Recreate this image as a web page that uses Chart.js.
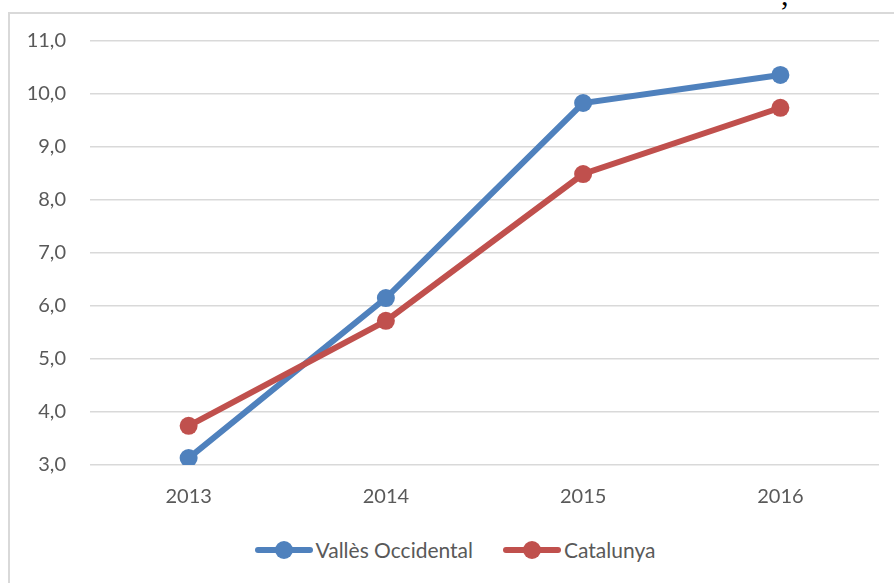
<!DOCTYPE html>
<html>
<head>
<meta charset="utf-8">
<script src="https://cdn.jsdelivr.net/npm/chart.js@4"></script>
<style>
  html, body { margin: 0; padding: 0; background: #fff; }
  body { width: 894px; height: 583px; position: relative; overflow: hidden; font-family: Lato, "Open Sans", sans-serif; }
  #frame { position: absolute; left: 8px; top: 12px; width: 900px; height: 600px; border-left: 2px solid #d9d9d9; border-top: 2px solid #d9d9d9; }
  #stray { position: absolute; left: 781px; top: -22px; font-size: 30px; color: #000; font-family: "Liberation Serif", serif; }
  #wrap { position: absolute; left: 0; top: 0; width: 894px; height: 515px; }
  #legend { position: absolute; top: 537px; left: 0; width: 894px; display: flex; justify-content: center; gap: 30px; padding-left: 16px; box-sizing: border-box; }
  .item { display: flex; align-items: center; font-size: 21px; color: #595959; }
  .sample { position: relative; width: 58px; height: 24px; margin-right: 3px; }
  .sample .ln { position: absolute; left: 0; top: 9px; width: 58px; height: 6px; border-radius: 3px; }
  .sample .pt { position: absolute; left: 20px; top: 3px; width: 18px; height: 18px; border-radius: 50%; }
</style>
</head>
<body>
<div id="frame"></div>
<div id="stray">,</div>
<div id="wrap"><canvas id="chart"></canvas></div>
<div id="legend"></div>
<script>
// -----------------------
// Dados
// -----------------------
const years = ["2013", "2014", "2015", "2016"];
const vallesOccidental = [3.13, 6.15, 9.83, 10.36];
const catalunya = [3.74, 5.72, 8.49, 9.74];
const seriesNames = ["Vallès Occidental", "Catalunya"];
const seriesColors = ["#4F81BD", "#C0504D"];

const textColor = "#595959";
const gridColor = "#d9d9d9";

const ctx = document.getElementById("chart").getContext("2d");

// Catalunya is drawn on top of Vallès (lower order = drawn later)
const chart = new Chart(ctx, {
  type: "line",
  data: {
    labels: years,
    datasets: [
      { label: seriesNames[0], data: vallesOccidental, borderColor: seriesColors[0], backgroundColor: seriesColors[0], order: 1,
        borderWidth: 6, pointRadius: 9, pointHoverRadius: 9, pointBorderWidth: 0, tension: 0, fill: false },
      { label: seriesNames[1], data: catalunya, borderColor: seriesColors[1], backgroundColor: seriesColors[1], order: 0,
        borderWidth: 6, pointRadius: 9, pointHoverRadius: 9, pointBorderWidth: 0, tension: 0, fill: false }
    ]
  },
  options: {
    responsive: true,
    maintainAspectRatio: false,
    animation: false,
    layout: { padding: { left: 0, right: 15, top: 41, bottom: 0 } },
    plugins: { legend: { display: false }, tooltip: { enabled: false } },
    scales: {
      x: {
        offset: true,
        grid: { display: false, drawTicks: false },
        border: { display: false },
        ticks: { color: textColor, font: { family: "Lato", size: 20 }, padding: 20 },
        afterFit: s => { s.height = 50; }
      },
      y: {
        min: 3,
        max: 11,
        grid: { color: gridColor, lineWidth: 1.5, drawTicks: false },
        border: { display: false },
        ticks: {
          stepSize: 1,
          color: textColor,
          font: { family: "Lato", size: 20 },
          padding: 24,
          callback: v => v.toFixed(1).replace(".", ",")
        },
        afterFit: s => { s.width = 90; }
      }
    }
  }
});

// -----------------------
// Legenda
// -----------------------
const legend = document.getElementById("legend");
seriesNames.forEach((name, i) => {
  const item = document.createElement("div");
  item.className = "item";
  item.innerHTML = `<span class="sample"><span class="ln" style="background:${seriesColors[i]}"></span>` +
    `<span class="pt" style="background:${seriesColors[i]}"></span></span><span>${name}</span>`;
  legend.appendChild(item);
});
</script>
</body>
</html>
